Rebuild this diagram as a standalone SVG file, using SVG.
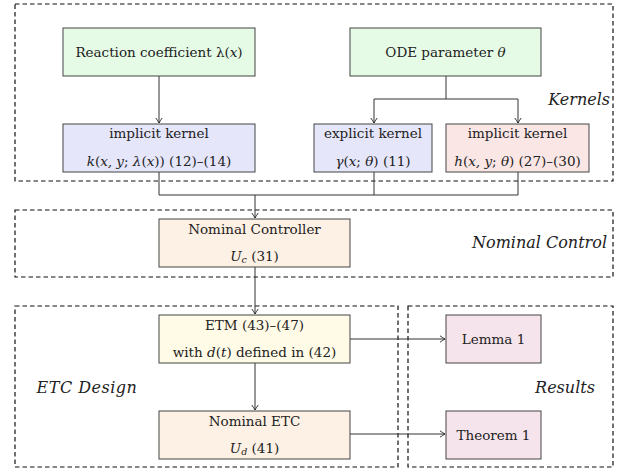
<svg xmlns="http://www.w3.org/2000/svg" width="637" height="473" viewBox="0 0 637 473">
<defs>
<marker id="arr" markerWidth="8" markerHeight="8" viewBox="-6 -4 8 8" refX="0" refY="0" orient="auto" markerUnits="userSpaceOnUse">
<path d="M-5,-3.2 Q-2,-1 0,0 Q-2,1 -5,3.2" fill="none" stroke="#222" stroke-width="0.9"/>
</marker>
</defs>
<style>
text{font-family:"DejaVu Serif",serif;font-size:13.5px;fill:#222;text-anchor:middle}
.i{font-style:italic}
.lab{font-style:italic;font-size:16px}
.grp{fill:none;stroke:#111;stroke-width:1.2;stroke-dasharray:4.5 3}
.box{stroke:#444;stroke-width:1}
.green{fill:#e6fbe6}.blue{fill:#e6e6fb}.red{fill:#fbe6e6}.orange{fill:#fdf0e4}.yellow{fill:#fffbe6}.pink{fill:#f6e4ec}
.c{fill:none;stroke:#333;stroke-width:1}
.sub{font-size:9.5px}
</style>
<rect width="637" height="473" fill="#fff"/>
<g id="groups">
<rect class="grp" x="15" y="4" width="598" height="177"/>
<rect class="grp" x="15" y="210" width="598" height="67"/>
<rect class="grp" x="15" y="306" width="383" height="161"/>
<rect class="grp" x="408" y="306" width="205" height="161"/>
<text class="lab" x="610" y="105" style="text-anchor:end">Kernels</text>
<text class="lab" x="607" y="248" style="text-anchor:end">Nominal Control</text>
<text class="lab" x="87" y="393" style="letter-spacing:0.5px">ETC Design</text>
<text class="lab" x="565" y="393">Results</text>
</g>
<g id="connectors">
<path class="c" d="M159,76 V123" marker-end="url(#arr)"/>
<path class="c" d="M446,76 V99 M374,99 H518 M374,99 V123" marker-end="url(#arr)"/>
<path class="c" d="M518,99 V123" marker-end="url(#arr)"/>
<path class="c" d="M159,172 V195 H518 M374,172 V195 M518,172 V195"/>
<path class="c" d="M255,195 V218" marker-end="url(#arr)"/>
<path class="c" d="M255,267 V314" marker-end="url(#arr)"/>
<path class="c" d="M255,363 V410" marker-end="url(#arr)"/>
<path class="c" d="M350,339 H445" marker-end="url(#arr)"/>
<path class="c" d="M350,434 H445" marker-end="url(#arr)"/>
</g>
<g id="reaction">
<rect class="box green" x="63" y="28" width="192" height="48"/>
<text x="159" y="57">Reaction coefficient λ(<tspan class="i">x</tspan>)</text>
</g>
<g id="ode">
<rect class="box green" x="350" y="28" width="191" height="48"/>
<text x="445.5" y="57">ODE parameter <tspan class="i">θ</tspan></text>
</g>
<g id="kernel-k">
<rect class="box blue" x="63" y="124" width="192" height="48"/>
<text x="159" y="138">implicit kernel</text>
<text x="159" y="166"><tspan class="i">k</tspan>(<tspan class="i">x, y</tspan>; <tspan class="i">λ</tspan>(<tspan class="i">x</tspan>)) (12)–(14)</text>
</g>
<g id="kernel-gamma">
<rect class="box blue" x="314" y="124" width="118" height="48"/>
<text x="373" y="138">explicit kernel</text>
<text x="373" y="166"><tspan class="i">γ</tspan>(<tspan class="i">x</tspan>; <tspan class="i">θ</tspan>) (11)</text>
</g>
<g id="kernel-h">
<rect class="box red" x="446" y="124" width="143" height="48"/>
<text x="517.5" y="138">implicit kernel</text>
<text x="517.5" y="166"><tspan class="i">h</tspan>(<tspan class="i">x, y</tspan>; <tspan class="i">θ</tspan>) (27)–(30)</text>
</g>
<g id="nominal-controller">
<rect class="box orange" x="159" y="219" width="191" height="48"/>
<text x="254.5" y="234">Nominal Controller</text>
<text x="254.5" y="261"><tspan class="i">U</tspan><tspan class="i sub" dy="2">c</tspan><tspan dy="-2"> (31)</tspan></text>
</g>
<g id="etm">
<rect class="box yellow" x="159" y="315" width="191" height="48"/>
<text x="254.5" y="330">ETM (43)–(47)</text>
<text x="254.5" y="357">with <tspan class="i">d</tspan>(<tspan class="i">t</tspan>) defined in (42)</text>
</g>
<g id="nominal-etc">
<rect class="box orange" x="159" y="411" width="191" height="48"/>
<text x="254.5" y="426">Nominal ETC</text>
<text x="254.5" y="453"><tspan class="i">U</tspan><tspan class="i sub" dy="2">d</tspan><tspan dy="-2"> (41)</tspan></text>
</g>
<g id="lemma">
<rect class="box pink" x="446" y="315" width="95" height="48"/>
<text x="493.5" y="344">Lemma 1</text>
</g>
<g id="theorem">
<rect class="box pink" x="446" y="411" width="95" height="48"/>
<text x="493.5" y="440">Theorem 1</text>
</g>
</svg>
